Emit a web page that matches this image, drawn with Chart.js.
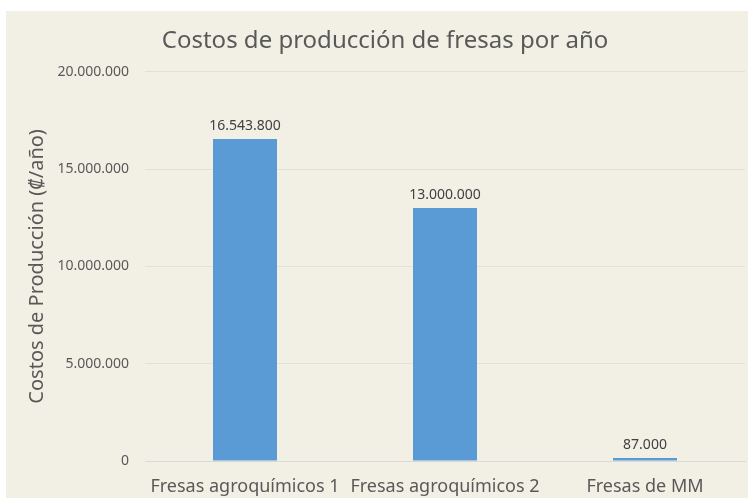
<!DOCTYPE html>
<html>
<head>
<meta charset="utf-8">
<script src="https://cdn.jsdelivr.net/npm/chart.js@4"></script>
<style>
  html, body { margin: 0; padding: 0; background: #ffffff; overflow: hidden; }
  #wrap { position: absolute; left: 6px; top: 11px; width: 758px; height: 487px; background: #f2f0e4; }
</style>
</head>
<body>
<div id="wrap"><canvas id="costChart"></canvas></div>
<script>
// datos del gráfico
const categorias = ['Fresas agroquímicos 1', 'Fresas agroquímicos 2', 'Fresas de MM'];
const costos = [16543800, 13000000, 87000];
const ticksY = [0, 5000000, 10000000, 15000000, 20000000];

function formatoMiles(v) {
    return String(v).replace(/\B(?=(\d{3})+(?!\d))/g, '.');
}

// etiquetas encima de cada barra
const etiquetasBarras = {
    id: 'etiquetasBarras',
    afterDatasetsDraw(chart) {
        const ctx = chart.ctx;
        const meta = chart.getDatasetMeta(0);
        ctx.save();
        ctx.font = '14px "Noto Sans", sans-serif';
        ctx.fillStyle = '#404040';
        ctx.textAlign = 'center';
        ctx.textBaseline = 'bottom';
        meta.data.forEach(function (bar, i) {
            ctx.fillText(formatoMiles(costos[i]), bar.x, bar.y - 6);
        });
        ctx.restore();
    }
};

const ctx = document.getElementById('costChart').getContext('2d');
const grafico = new Chart(ctx, {
    type: 'bar',
    data: {
        labels: categorias,
        datasets: [{
            label: 'Costos',
            data: costos,
            backgroundColor: '#5b9bd5',
            borderWidth: 0,
            barPercentage: 0.32,
            categoryPercentage: 1,
            minBarLength: 3
        }]
    },
    options: {
        responsive: true,
        maintainAspectRatio: false,
        animation: false,
        layout: { padding: { left: 19, right: 19, top: 0, bottom: 0 } },
        plugins: {
            legend: { display: false },
            tooltip: { enabled: false },
            title: {
                display: true,
                text: 'Costos de producción de fresas por año',
                color: '#595959',
                font: { family: '"Noto Sans", sans-serif', size: 24, weight: 'normal' },
                padding: { top: 16, bottom: 16 }
            }
        },
        scales: {
            x: {
                grid: { display: false },
                border: { display: true, color: '#d9d9d9', width: 1 },
                ticks: {
                    color: '#595959',
                    font: { family: '"Noto Sans", sans-serif', size: 18 },
                    maxRotation: 0,
                    autoSkip: false,
                    padding: 7
                },
                afterFit: function (s) { s.height = 37; }
            },
            y: {
                min: 0,
                max: 20000000,
                afterBuildTicks: function (s) { s.ticks = ticksY.map(v => ({ value: v })); },
                grid: { color: '#e3e1d5', drawTicks: false },
                border: { display: false },
                ticks: {
                    color: '#595959',
                    font: { family: '"Noto Sans", sans-serif', size: 14 },
                    padding: 16,
                    callback: function (v) { return formatoMiles(v); }
                },
                title: {
                    display: true,
                    text: 'Costos de Producción (₡/año)',
                    color: '#595959',
                    font: { family: '"Noto Sans", sans-serif', size: 20 },
                    padding: { top: 0, bottom: 4 }
                },
                afterFit: function (s) { s.width = 120; }
            }
        }
    },
    plugins: [etiquetasBarras]
});
</script>
</body>
</html>
